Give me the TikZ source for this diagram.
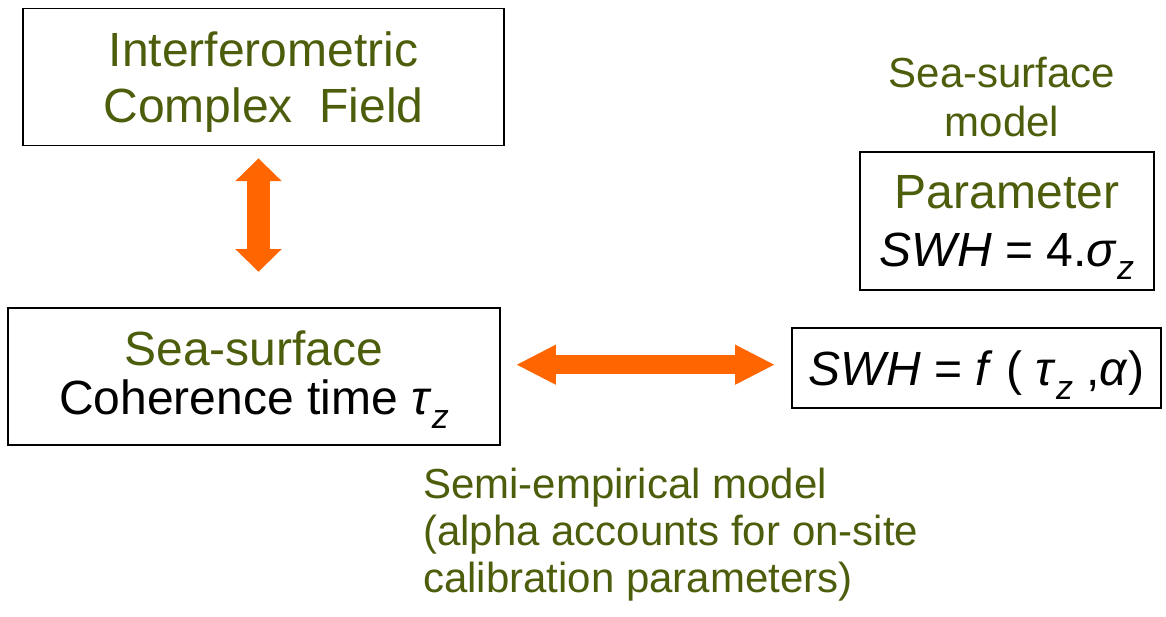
\documentclass[tikz,border=0pt]{standalone}
\usepackage{fontspec}
\setmainfont{Liberation Sans}
\usetikzlibrary{arrows.meta,calc}
\definecolor{txtgreen}{RGB}{76,94,12}
\definecolor{arrorange}{RGB}{255,102,0}
\newcommand{\sbz}{\raisebox{-0.28em}{\fontsize{34}{34}\selectfont\itshape z}}
\newcommand{\topstrut}[1]{\rule{0pt}{#1}}
\begin{document}
\begin{tikzpicture}[x=1pt,y=-1pt,
  box/.style={draw=black, line width=1.8pt, inner sep=0pt, align=center},
  bigfont/.style={font=\fontsize{48}{#1}\selectfont},
  vertarrow/.style={draw=arrorange, line width=23pt,
    {Triangle[width=45pt,length=22.7pt]}-{Triangle[width=45pt,length=22.7pt]}},
  horarrow/.style={draw=arrorange, line width=19pt,
    {Triangle[width=37pt,length=40pt]}-{Triangle[width=37pt,length=40pt]}}]
\useasboundingbox (0,0) rectangle (1166,616);

\node[box, bigfont=56, text=txtgreen, minimum width=481pt, minimum height=137pt]
  (field) at (263.5,77) {\topstrut{45pt}Interferometric\\Complex\ \ Field};

\node[box, bigfont=49, minimum width=492pt, minimum height=137pt]
  (coh) at (254,376.5) {\topstrut{41pt}\textcolor{txtgreen}{Sea-surface}\\Coherence time \textit{τ}\sbz};

\node[box, bigfont=58, minimum width=294pt, minimum height=138pt]
  (param) at (1007,221) {\topstrut{46pt}\textcolor{txtgreen}{Parameter}\\\textit{SWH} = 4.\textit{σ}\sbz};

\node[box, bigfont=55, minimum width=369pt, minimum height=80pt]
  (fbox) at (976.5,368) {\topstrut{49pt}\textit{SWH} = \textit{f} ( \textit{τ}\sbz\ ,\textit{α})};

\node[text=txtgreen, align=center, inner sep=0pt, font=\fontsize{42}{49}\selectfont]
  (ssm) at (1002,97) {Sea-surface\\model};

\node[text=txtgreen, align=left, inner sep=0pt, anchor=west, font=\fontsize{42}{47}\selectfont]
  (semi) at (423,534.5) {Semi-empirical model\\(alpha accounts for on-site\\calibration parameters)};

\draw[vertarrow] ($(field.south)+(-5,12)$) -- ($(coh.north)+(4.5,-35.3)$);
\draw[horarrow] ($(coh.east)+(15,-11.8)$) -- ($(fbox.west)+(-16,-3.3)$);
\end{tikzpicture}
\end{document}
